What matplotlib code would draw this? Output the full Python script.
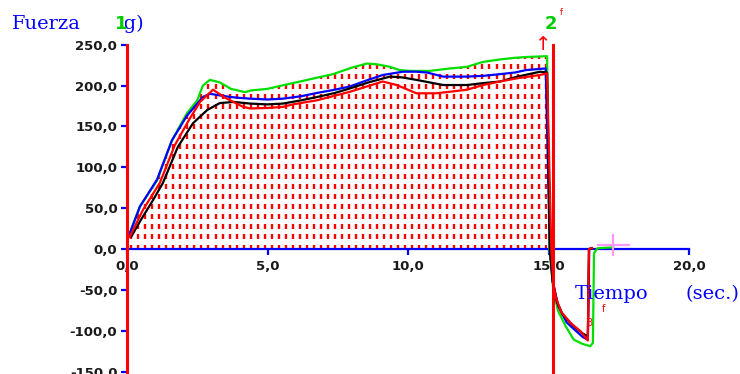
import numpy as np
import matplotlib
matplotlib.use("Agg")
import matplotlib.pyplot as plt
from matplotlib.collections import LineCollection
from matplotlib.font_manager import FontProperties
from matplotlib.patches import Rectangle

# --- force traces (g) over time (s) ---
green_t = [0.03, 0.46, 1.07, 1.6, 2.13, 2.5, 2.7, 2.95, 3.3, 3.7, 4.2, 4.4, 5.0, 5.5,
           6.16, 6.8, 7.33, 8.0, 8.54, 8.9, 9.36, 9.7, 10.07, 10.78, 11.5, 12.1, 12.67,
           13.27, 13.8, 14.2, 14.95, 15.03, 15.16, 15.33, 15.62, 15.9, 16.2, 16.48,
           16.58, 16.62, 16.75, 17.3]
green_F = [13, 52, 84, 133, 166, 182, 200, 207, 204, 196, 192, 194, 196, 200,
           205, 210, 214, 222, 227, 226, 223, 219, 218, 218, 221, 223, 229,
           232, 234, 235, 236, 0, -46, -75, -95, -111, -116, -119,
           -115, -5, 1, 2]

blue_t = [0.03, 0.46, 1.07, 1.6, 2.13, 2.5, 2.7, 2.95, 3.3, 3.7, 4.0, 4.38, 5.0, 5.55,
          6.2, 6.76, 7.4, 7.94, 8.5, 9.1, 9.82, 10.3, 10.68, 11.25, 12.1, 12.7, 13.27,
          13.8, 14.2, 14.9, 15.05, 15.15, 15.35, 15.65, 15.87, 16.23, 16.4, 16.45, 16.55]
blue_F = [13, 52, 85, 133, 163, 178, 186, 190, 188, 186, 185, 184, 183, 184,
          187, 191, 195, 199, 206, 213, 217, 217, 216, 211, 211, 212, 214,
          216, 219, 221, 0, -40, -70, -90, -97, -108, -111, 0, 1]

red_t = [0.1, 0.57, 1.17, 1.7, 2.24, 2.6, 3.06, 3.5, 4.13, 4.38, 5.0, 5.55, 5.9, 6.76,
         7.94, 9.1, 9.6, 10.3, 11.0, 11.5, 12.1, 12.67, 13.27, 13.9, 14.7, 14.95,
         15.1, 15.17, 15.27, 15.45, 15.8, 16.15, 16.4, 16.44, 16.55]
red_F = [15, 48, 81, 127, 160, 180, 195, 185, 174, 172, 172.6, 174, 177, 182,
         192.5, 205, 200.7, 190.6, 190.6, 192.5, 195, 200.7, 205, 209, 213, 215,
         0, -42, -60, -77, -91, -101, -112, 0, 1]

black_t = [0.15, 0.5, 0.93, 1.28, 1.81, 2.35, 2.85, 3.3, 3.8, 4.38, 5.0, 5.55, 6.2,
           6.76, 7.4, 7.94, 8.6, 9.36, 9.8, 10.3, 11.25, 12.1, 12.67, 13.27, 13.9,
           14.7, 14.95, 15.05, 15.15, 15.3, 15.5, 15.85, 16.2, 16.4, 16.44, 16.55]
black_F = [15, 36, 60, 81, 125, 154, 170, 178.6, 180, 178, 177, 178, 182,
           186, 191, 196.6, 204, 211, 210, 207, 200.7, 200.7, 203, 205, 211,
           217, 216, 0, -40, -65, -80, -93, -103, -107, 0, 1]

x_ticks = [0, 5, 10, 15, 20]
x_labels = ["0,0", "5,0", "10,0", "15,0", "20,0"]
y_ticks = [-150, -100, -50, 0, 50, 100, 150, 200, 250]
y_labels = ["-150,0", "-100,0", "-50,0", "0,0", "50,0", "100,0", "150,0", "200,0", "250,0"]

# event markers (s)
marker_2_t = 15.15
marker_3_t = 16.42

W, H = 740, 374
fig = plt.figure(figsize=(W / 100, H / 100), dpi=100)
ax = fig.add_axes([0, 0, 1, 1])
ax.set_xlim(-127 / 28.1, (W - 127) / 28.1)
ax.set_ylim(-(H - 249) / 0.817, 249 / 0.817)
ax.patch.set_facecolor("white")

for s in ("top", "right"):
    ax.spines[s].set_visible(False)
ax.spines["left"].set_position(("data", 0))
ax.spines["left"].set_color("#ff0000")
ax.spines["left"].set_linewidth(2.2)
ax.spines["left"].set_bounds(-170, 250)
ax.spines["left"].set_zorder(6)
ax.spines["bottom"].set_position(("data", 0))
ax.spines["bottom"].set_color("#0000ff")
ax.spines["bottom"].set_linewidth(1.6)
ax.spines["bottom"].set_bounds(0, 20)

ax.set_xticks(x_ticks, x_labels)
ax.set_yticks(y_ticks, y_labels)
tick_font = FontProperties(family="DejaVu Sans", weight="bold", size=9.5)
for lab in ax.get_xticklabels() + ax.get_yticklabels():
    lab.set_fontproperties(tick_font)
    lab.set_color("#1a1a1a")
ax.tick_params(axis="both", direction="out", length=4, width=1.6, color="#0000ff")
ax.tick_params(axis="x", pad=4)
ax.tick_params(axis="y", pad=3)

# dotted red fill under the upper envelope during the hold
gt = np.array(green_t)
gF = np.array(green_F)
hold = gt <= 14.95
poly = ax.fill_between(gt[hold], 0, gF[hold], facecolor="none", edgecolor="none")
cols = np.arange(0.15, 14.95, 0.25)
rows = np.arange(0, 250, 12.25)
segs = [[(c, r), (c, r + 5.5)] for c in cols for r in rows]
dashes = LineCollection(segs, colors="#ff0000", linewidths=1.7, zorder=2)
ax.add_collection(dashes)
dashes.set_clip_path(poly.get_paths()[0], ax.transData)

lw = 1.6
ax.plot(green_t, green_F, color="#00e000", lw=lw, zorder=3)
ax.plot(blue_t, blue_F, color="#0000ff", lw=lw, zorder=4)
ax.plot(black_t, black_F, color="#000000", lw=lw, zorder=4)
ax.plot(red_t, red_F, color="#ff0000", lw=lw, zorder=5)

# marker lines and labels
ax.plot([marker_2_t, marker_2_t], [250, -170], color="#ff0000", lw=2.2, zorder=6)
ax.text(marker_2_t - 0.05, 275, "2", color="#00cc00", fontsize=13, fontweight="bold",
        ha="center", va="center", zorder=7)
ax.text(marker_2_t + 0.3, 289, "f", color="#ff0000", fontsize=6, ha="center",
        va="center", zorder=7)
ax.text(marker_2_t - 0.35, 250, "\u2191", color="#ff0000", fontsize=14,
        ha="center", va="center", zorder=7)
ax.text(marker_3_t + 0.05, -90, "3", color="#ff0000", fontsize=7, ha="center",
        va="center", zorder=7)
ax.text(marker_3_t + 0.55, -73, "f", color="#ff0000", fontsize=7, ha="center",
        va="center", zorder=7)

# cursor
cx, cy = 17.3, 4.9
ax.plot([cx - 0.55, cx + 0.55], [cy, cy], color="#ff99ff", lw=1.6, zorder=7)
ax.plot([cx, cx], [cy - 12, cy + 12], color="#ff99ff", lw=1.6, zorder=7)

# axis titles
title_kw = dict(color="#0000ff", family="DejaVu Serif", fontsize=14, va="baseline",
                zorder=3)
fig.text(12 / W, 1 - 29 / H, "Fuerza", ha="left", **title_kw)
fig.text(117 / W, 1 - 29 / H, "(g)", ha="left", **title_kw)
# marker 1 label sits over the opening parenthesis
fig.add_artist(Rectangle((116 / W, 1 - 37 / H), 9 / W, 24 / H, transform=fig.transFigure,
                         facecolor="white", edgecolor="none", zorder=3.5))
fig.text(121.5 / W, 1 - 29 / H, "1", color="#00cc00", family="DejaVu Sans",
         fontsize=13, fontweight="bold", ha="center", va="baseline", zorder=4)
fig.text(575 / W, 1 - 299 / H, "Tiempo", ha="left", **title_kw)
fig.text(739 / W, 1 - 299 / H, "(sec.)", ha="right", **title_kw)

fig.savefig("out.png", dpi=100)
